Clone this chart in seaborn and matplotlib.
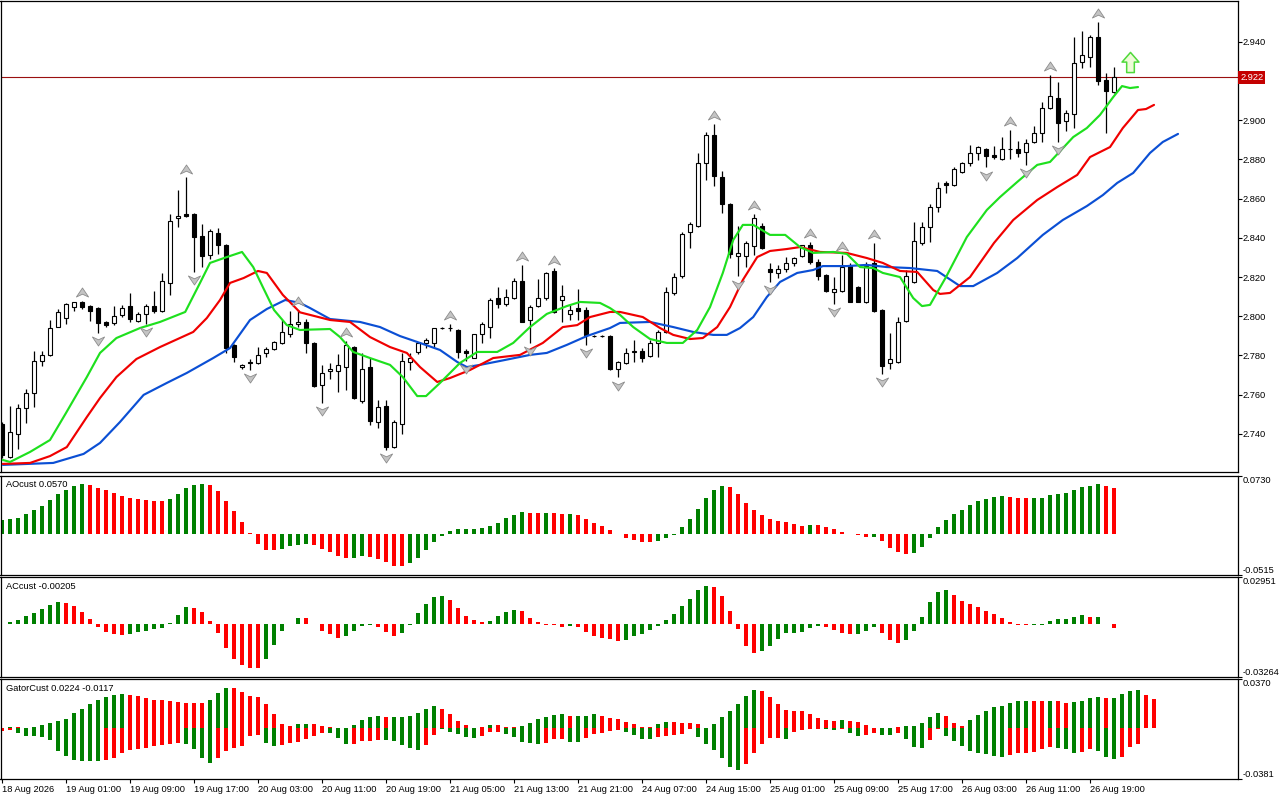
import numpy as np
import matplotlib
matplotlib.use("Agg")
import matplotlib.pyplot as plt
from matplotlib.path import Path
from matplotlib.transforms import offset_copy, blended_transform_factory
import seaborn as sns

# ---------------- data ----------------
opens = [2.7451, 2.7282, 2.7400, 2.7532, 2.7609, 2.7772, 2.7803, 2.7945, 2.7991, 2.8047,
         2.8073, 2.8052, 2.8042, 2.7971, 2.7966, 2.8007, 2.8052, 2.7976, 2.8012, 2.8052,
         2.8027, 2.8170, 2.8501, 2.8522, 2.8522, 2.8409, 2.8313, 2.8425, 2.8364, 2.7854,
         2.7741, 2.7762, 2.7762, 2.7813, 2.7833, 2.7864, 2.7910, 2.7961, 2.7971, 2.7864,
         2.7650, 2.7721, 2.7721, 2.7741, 2.7843, 2.7568, 2.7741, 2.7461, 2.7542, 2.7333,
         2.7451, 2.7767, 2.7818, 2.7864, 2.7864, 2.7940, 2.7940, 2.7930, 2.7823, 2.7787,
         2.7910, 2.7945, 2.8093, 2.8063, 2.8093, 2.8180, 2.7981, 2.8052, 2.8093, 2.8231,
         2.8083, 2.8012, 2.8042, 2.8032, 2.7899, 2.7899, 2.7899, 2.7731, 2.7762, 2.7818,
         2.7823, 2.7797, 2.7864, 2.7920, 2.8119, 2.8205, 2.8430, 2.8460, 2.8782, 2.8925,
         2.8710, 2.8573, 2.8307, 2.8307, 2.8358, 2.8460, 2.8241, 2.8221, 2.8241, 2.8272,
         2.8307, 2.8364, 2.8277, 2.8211, 2.8124, 2.8129, 2.8256, 2.8149, 2.8073, 2.8272,
         2.8032, 2.7762, 2.7767, 2.7976, 2.8175, 2.8374, 2.8455, 2.8557, 2.8680, 2.8670,
         2.8736, 2.8782, 2.8833, 2.8853, 2.8823, 2.8802, 2.8853, 2.8853, 2.8838, 2.8889,
         2.8935, 2.9062, 2.9113, 2.8996, 2.9032, 2.9297, 2.9322, 2.9424, 2.9205, 2.9144]
highs = [2.7461, 2.7542, 2.7553, 2.7629, 2.7823, 2.7823, 2.7981, 2.8037, 2.8068, 2.8073,
         2.8078, 2.8058, 2.8047, 2.7976, 2.8052, 2.8058, 2.8119, 2.8022, 2.8063, 2.8129,
         2.8221, 2.8522, 2.8644, 2.8710, 2.8527, 2.8471, 2.8445, 2.8450, 2.8369, 2.7859,
         2.7757, 2.7782, 2.7843, 2.7843, 2.7874, 2.7981, 2.8027, 2.8032, 2.7986, 2.7869,
         2.7752, 2.7762, 2.7808, 2.7874, 2.7849, 2.7813, 2.7787, 2.7573, 2.7573, 2.7471,
         2.7813, 2.7813, 2.7869, 2.7889, 2.7940, 2.7945, 2.7961, 2.7935, 2.7833, 2.7910,
         2.7971, 2.8093, 2.8149, 2.8139, 2.8195, 2.8262, 2.8058, 2.8190, 2.8226, 2.8246,
         2.8160, 2.8058, 2.8139, 2.8047, 2.7904, 2.7904, 2.7904, 2.7772, 2.7838, 2.7879,
         2.7838, 2.7879, 2.7930, 2.8149, 2.8221, 2.8430, 2.8481, 2.8833, 2.8940, 2.8981,
         2.8741, 2.8578, 2.8460, 2.8384, 2.8522, 2.8476, 2.8272, 2.8262, 2.8302, 2.8302,
         2.8364, 2.8379, 2.8292, 2.8216, 2.8200, 2.8313, 2.8272, 2.8155, 2.8277, 2.8374,
         2.8037, 2.7915, 2.7996, 2.8236, 2.8481, 2.8481, 2.8573, 2.8685, 2.8690, 2.8761,
         2.8787, 2.8874, 2.8868, 2.8858, 2.8868, 2.8914, 2.8950, 2.8894, 2.8904, 2.8970,
         2.9093, 2.9231, 2.9195, 2.9052, 2.9424, 2.9455, 2.9435, 2.9501, 2.9241, 2.9271]
lows = [2.7277, 2.7277, 2.7323, 2.7456, 2.7537, 2.7747, 2.7797, 2.7945, 2.7961, 2.8027,
        2.8037, 2.7976, 2.7915, 2.7945, 2.7955, 2.7996, 2.7971, 2.7971, 2.7961, 2.8017,
        2.8022, 2.8109, 2.8455, 2.8506, 2.8226, 2.8251, 2.8292, 2.8318, 2.7813, 2.7767,
        2.7731, 2.7726, 2.7757, 2.7792, 2.7828, 2.7859, 2.7894, 2.7945, 2.7813, 2.7639,
        2.7558, 2.7680, 2.7614, 2.7624, 2.7578, 2.7558, 2.7446, 2.7430, 2.7318, 2.7328,
        2.7400, 2.7726, 2.7808, 2.7838, 2.7843, 2.7935, 2.7925, 2.7787, 2.7772, 2.7787,
        2.7864, 2.7889, 2.8042, 2.8052, 2.8088, 2.7971, 2.7864, 2.8047, 2.8083, 2.8017,
        2.7971, 2.7981, 2.7981, 2.7854, 2.7894, 2.7894, 2.7726, 2.7690, 2.7757, 2.7767,
        2.7767, 2.7792, 2.7792, 2.7915, 2.8109, 2.8195, 2.8348, 2.8455, 2.8695, 2.8664,
        2.8527, 2.8297, 2.8205, 2.8251, 2.8313, 2.8343, 2.8175, 2.8195, 2.8226, 2.8257,
        2.8302, 2.8267, 2.8185, 2.8124, 2.8063, 2.8124, 2.8073, 2.8073, 2.8068, 2.8022,
        2.7706, 2.7731, 2.7762, 2.7971, 2.8170, 2.8364, 2.8379, 2.8532, 2.8629, 2.8664,
        2.8731, 2.8766, 2.8797, 2.8761, 2.8802, 2.8797, 2.8802, 2.8812, 2.8772, 2.8884,
        2.8889, 2.9057, 2.8889, 2.8945, 2.8960, 2.9266, 2.9271, 2.9180, 2.8935, 2.9139]
closes = [2.7293, 2.7410, 2.7532, 2.7609, 2.7772, 2.7803, 2.7940, 2.8022, 2.8063, 2.8073,
          2.8047, 2.8027, 2.7966, 2.7955, 2.8001, 2.8042, 2.7986, 2.8012, 2.8052, 2.8027,
          2.8180, 2.8486, 2.8511, 2.8511, 2.8404, 2.8307, 2.8435, 2.8364, 2.7838, 2.7792,
          2.7752, 2.7767, 2.7803, 2.7833, 2.7869, 2.7920, 2.7961, 2.7971, 2.7864, 2.7644,
          2.7711, 2.7731, 2.7752, 2.7854, 2.7583, 2.7731, 2.7466, 2.7537, 2.7333, 2.7461,
          2.7772, 2.7787, 2.7864, 2.7879, 2.7940, 2.7940, 2.7940, 2.7818, 2.7813, 2.7910,
          2.7961, 2.8083, 2.8063, 2.8098, 2.8180, 2.7971, 2.8047, 2.8093, 2.8221, 2.8022,
          2.8103, 2.8032, 2.8027, 2.7904, 2.7899, 2.7899, 2.7731, 2.7767, 2.7813, 2.7823,
          2.7787, 2.7864, 2.7920, 2.8124, 2.8200, 2.8420, 2.8471, 2.8782, 2.8925, 2.8715,
          2.8573, 2.8318, 2.8323, 2.8374, 2.8501, 2.8348, 2.8226, 2.8241, 2.8272, 2.8297,
          2.8364, 2.8277, 2.8205, 2.8129, 2.8139, 2.8251, 2.8073, 2.8073, 2.8256, 2.8027,
          2.7746, 2.7782, 2.7971, 2.8205, 2.8384, 2.8455, 2.8557, 2.8654, 2.8670, 2.8751,
          2.8782, 2.8833, 2.8863, 2.8817, 2.8812, 2.8853, 2.8853, 2.8833, 2.8884, 2.8935,
          2.9062, 2.9123, 2.8986, 2.9037, 2.9292, 2.9333, 2.9424, 2.9200, 2.9149, 2.9220]

x_labels = ["18 Aug 2026", "19 Aug 01:00", "19 Aug 09:00", "19 Aug 17:00", "20 Aug 03:00",
            "20 Aug 11:00", "20 Aug 19:00", "21 Aug 05:00", "21 Aug 13:00", "21 Aug 21:00",
            "24 Aug 07:00", "24 Aug 15:00", "25 Aug 01:00", "25 Aug 09:00", "25 Aug 17:00",
            "26 Aug 03:00", "26 Aug 11:00", "26 Aug 19:00"]
x_label_bars = [0, 8, 16, 24, 32, 40, 48, 56, 64, 72, 80, 88, 96, 104, 112, 120, 128, 136]

# Alligator lines (bar position, price)
lips_x = [0.1, 1, 3.5, 6, 8, 10.6, 12.25, 14.3, 17.25, 19.75, 22.9, 24.75, 26, 28.1, 30, 31.4, 32.6, 34,
          35.6, 37.25, 38.5, 41, 42.25, 43.9, 46, 48.5, 50.1, 51.9, 53, 54.75, 57.25, 59.4, 61.9, 63.9,
          66, 68.1, 70.6, 72.25, 74.75, 76, 77.25, 78.9, 81, 83.1, 85.1, 86.9, 88.5, 90.1, 91.4, 92.6,
          93.9, 96, 97.9, 99.75, 101.4, 103.9, 105.6, 107.25, 108.9, 110.1, 112.25, 113.9, 115, 116,
          118, 120.6, 123.1, 124.75, 126.9, 129.4, 131, 133.9, 135.6, 137.25, 138.9, 140, 141, 142]
lips_y = [2.7267, 2.7257, 2.7308, 2.7369, 2.7507, 2.7690, 2.7813, 2.7889, 2.7940, 2.7971, 2.8022, 2.8170,
          2.8272, 2.8302, 2.8328, 2.8251, 2.8149, 2.8032, 2.7955, 2.7930, 2.7932, 2.7935, 2.7894, 2.7818,
          2.7787, 2.7752, 2.7690, 2.7593, 2.7593, 2.7660, 2.7762, 2.7818, 2.7818, 2.7864, 2.7945, 2.8012,
          2.8052, 2.8073, 2.8068, 2.8042, 2.8007, 2.7945, 2.7884, 2.7864, 2.7864, 2.7930, 2.8047, 2.8221,
          2.8389, 2.8466, 2.8466, 2.8415, 2.8415, 2.8353, 2.8323, 2.8328, 2.8318, 2.8251, 2.8246, 2.8221,
          2.8200, 2.8093, 2.8052, 2.8058, 2.8200, 2.8404, 2.8542, 2.8608, 2.8685, 2.8772, 2.8787, 2.8914,
          2.8960, 2.9027, 2.9118, 2.9174, 2.9164, 2.9169]
teeth_x = [0.1, 3.5, 6, 8.1, 10.6, 12.25, 14.3, 16.8, 19.75, 23.9, 25.6, 27.25, 28.5, 30.2, 32, 33.1,
           35.1, 37.25, 38.5, 41, 43.5, 46, 48.5, 50.6, 52.25, 54.4, 56, 58.5, 61.4, 64.75, 67.6, 70.1,
           71.9, 73.5, 76, 77.25, 80.1, 82.25, 83.9, 86, 87.6, 89.4, 91, 92.6, 94.4, 96, 98.1, 99.75,
           102.25, 105.6, 108.1, 110.1, 112.25, 114.4, 116.4, 117.25, 118.5, 121, 124, 126.4, 129.4,
           131.9, 134.4, 136, 138.5, 140.1, 142, 143, 144]
teeth_y = [2.7247, 2.7252, 2.7287, 2.7333, 2.7486, 2.7583, 2.7690, 2.7782, 2.7843, 2.7920, 2.7991, 2.8083,
           2.8170, 2.8195, 2.8231, 2.8221, 2.8109, 2.8020, 2.8007, 2.7981, 2.7971, 2.7894, 2.7843, 2.7813,
           2.7741, 2.7665, 2.7685, 2.7726, 2.7787, 2.7803, 2.7864, 2.7945, 2.7955, 2.7996, 2.8022, 2.8022,
           2.7996, 2.7940, 2.7905, 2.7884, 2.7889, 2.7945, 2.8047, 2.8185, 2.8302, 2.8333, 2.8343, 2.8353,
           2.8328, 2.8323, 2.8297, 2.8272, 2.8231, 2.8226, 2.8134, 2.8114, 2.8119, 2.8200, 2.8374, 2.8491,
           2.8593, 2.8659, 2.8721, 2.8812, 2.8863, 2.8960, 2.9052, 2.9057, 2.9078]
jaw_x = [0.1, 6.4, 10.2, 12.25, 14.75, 17.7, 20.6, 23.1, 26.4, 28.5, 31, 33.1, 35.4, 37.25, 38.5, 41,
         44.75, 47.25, 49.75, 52.25, 54.75, 56.9, 58.1, 59.75, 62.25, 66, 68.1, 70.6, 73.1, 76, 77.25,
         81, 83.9, 86.4, 88.9, 90.6, 92.25, 93.9, 95.6, 97.25, 99.4, 101.4, 102.6, 105.6, 108.1, 110.6,
         113.5, 116.9, 119.75, 121.4, 124.4, 126.9, 130.1, 132.6, 135.6, 137.6, 139.4, 141.4, 143.5,
         145.1, 147]
jaw_y = [2.7242, 2.7252, 2.7298, 2.7354, 2.7461, 2.7599, 2.7660, 2.7711, 2.7787, 2.7838, 2.7981, 2.8037,
         2.8083, 2.8068, 2.8042, 2.7986, 2.7971, 2.7945, 2.7899, 2.7864, 2.7828, 2.7767, 2.7741, 2.7752,
         2.7772, 2.7803, 2.7813, 2.7854, 2.7899, 2.7940, 2.7966, 2.7971, 2.7945, 2.7920, 2.7905, 2.7905,
         2.7940, 2.7996, 2.8098, 2.8175, 2.8221, 2.8236, 2.8256, 2.8256, 2.8262, 2.8251, 2.8246, 2.8231,
         2.8154, 2.8154, 2.8221, 2.8297, 2.8415, 2.8491, 2.8562, 2.8618, 2.8680, 2.8731, 2.8833, 2.8889,
         2.8930]

fractal_up_bars = [10, 23, 37, 43, 56, 65, 69, 89, 94, 101, 105, 109, 126, 131, 137]
fractal_down_bars = [12, 18, 24, 31, 40, 48, 58, 66, 73, 77, 92, 96, 104, 110, 123, 128, 132]
signal_bar = 141
signal_price = 2.9299
current_price = 2.922
price_ticks = [2.740, 2.760, 2.780, 2.800, 2.820, 2.840, 2.860, 2.880, 2.900, 2.920, 2.940]

ao_values = [0.0172, 0.0184, 0.0197, 0.0247, 0.0297, 0.0348, 0.0423, 0.0499, 0.0549, 0.0595,
             0.0624, 0.0612, 0.0574, 0.0549, 0.0511, 0.0473, 0.0448, 0.0432, 0.0423, 0.0415,
             0.0413, 0.0440, 0.0499, 0.0574, 0.0612, 0.0624, 0.0612, 0.0541, 0.0415, 0.0289,
             0.0147, 0.0013, -0.0130, -0.0205, -0.0207, -0.0193, -0.0160, -0.0140, -0.0130, -0.0142,
             -0.0193, -0.0230, -0.0277, -0.0306, -0.0304, -0.0277, -0.0293, -0.0318, -0.0356, -0.0406,
             -0.0408, -0.0369, -0.0306, -0.0205, -0.0105, -0.0029, 0.0034, 0.0059, 0.0060, 0.0061,
             0.0071, 0.0096, 0.0134, 0.0197, 0.0235, 0.0272, 0.0262, 0.0260, 0.0262, 0.0258,
             0.0248, 0.0249, 0.0235, 0.0184, 0.0134, 0.0096, 0.0046, -0.0004, -0.0050, -0.0075,
             -0.0099, -0.0101, -0.0088, -0.0050, -0.0013, 0.0084, 0.0184, 0.0310, 0.0448, 0.0549,
             0.0599, 0.0587, 0.0499, 0.0386, 0.0297, 0.0235, 0.0184, 0.0159, 0.0147, 0.0122,
             0.0096, 0.0109, 0.0107, 0.0084, 0.0059, 0.0021, -0.0004, -0.0013, -0.0042, -0.0038,
             -0.0088, -0.0180, -0.0230, -0.0256, -0.0243, -0.0163, -0.0054, 0.0088, 0.0172, 0.0247,
             0.0297, 0.0360, 0.0411, 0.0436, 0.0461, 0.0473, 0.0461, 0.0450, 0.0448, 0.0449,
             0.0450, 0.0486, 0.0499, 0.0511, 0.0549, 0.0582, 0.0599, 0.0624, 0.0599, 0.0570]
ao_color_runs = [("g", 11), ("r", 10), ("g", 5), ("r", 9), ("g", 4), ("r", 5), ("g", 2), ("r", 5),
                 ("g", 15), ("r", 2), ("g", 1), ("r", 2), ("g", 1), ("r", 10), ("g", 9), ("r", 10),
                 ("g", 1), ("r", 7), ("g", 1), ("r", 4), ("g", 12), ("r", 3), ("g", 9), ("r", 2)]

ac_values = [0.0004, 0.0016, 0.0028, 0.0055, 0.0072, 0.0097, 0.0122, 0.0143, 0.0136, 0.0118,
             0.0080, 0.0034, -0.0016, -0.0045, -0.0059, -0.0066, -0.0059, -0.0045, -0.0039, -0.0028,
             -0.0022, 0.0007, 0.0061, 0.0109, 0.0105, 0.0080, 0.0024, -0.0051, -0.0145, -0.0214,
             -0.0253, -0.0270, -0.0272, -0.0214, -0.0126, -0.0039, 0.0005, 0.0040, 0.0040, 0.0005,
             -0.0039, -0.0059, -0.0084, -0.0072, -0.0039, -0.0009, -0.0002, -0.0016, -0.0045, -0.0072,
             -0.0053, -0.0001, 0.0074, 0.0128, 0.0172, 0.0178, 0.0153, 0.0103, 0.0053, 0.0028,
             0.0016, 0.0022, 0.0053, 0.0078, 0.0091, 0.0084, 0.0041, 0.0016, -0.0001, -0.0003,
             -0.0014, -0.0009, -0.0016, -0.0045, -0.0072, -0.0084, -0.0091, -0.0103, -0.0097, -0.0072,
             -0.0059, -0.0034, -0.0009, 0.0028, 0.0066, 0.0116, 0.0159, 0.0216, 0.0241, 0.0234,
             0.0178, 0.0084, -0.0028, -0.0134, -0.0178, -0.0166, -0.0134, -0.0091, -0.0053, -0.0052,
             -0.0047, -0.0022, -0.0009, -0.0016, -0.0034, -0.0053, -0.0059, -0.0058, -0.0041, -0.0016,
             -0.0053, -0.0097, -0.0116, -0.0097, -0.0041, 0.0047, 0.0141, 0.0203, 0.0216, 0.0184,
             0.0147, 0.0128, 0.0109, 0.0084, 0.0066, 0.0041, 0.0016, -0.0003, -0.0004, -0.0003,
             -0.0002, 0.0022, 0.0034, 0.0035, 0.0047, 0.0059, 0.0047, 0.0048, 0.0005, -0.00205]
ac_color_runs = [("r", 1), ("g", 7), ("r", 8), ("g", 8), ("r", 9), ("g", 5), ("r", 5), ("g", 4),
                 ("r", 3), ("g", 6), ("r", 5), ("g", 4), ("r", 6), ("g", 1), ("r", 6), ("g", 11),
                 ("r", 6), ("g", 8), ("r", 4), ("g", 3), ("r", 3), ("g", 6), ("r", 10), ("g", 7),
                 ("r", 1), ("g", 1), ("r", 2)]

gator_up = [0.0003, 0.0010, 0.0008, 0.0006, 0.0010, 0.0028, 0.0043, 0.0058, 0.0070, 0.0113,
            0.0146, 0.0183, 0.0213, 0.0238, 0.0254, 0.0259, 0.0251, 0.0246, 0.0228, 0.0213,
            0.0211, 0.0203, 0.0201, 0.0193, 0.0191, 0.0190, 0.0213, 0.0266, 0.0304, 0.0302,
            0.0271, 0.0246, 0.0238, 0.0183, 0.0108, 0.0033, 0.0016, 0.0033, 0.0034, 0.0033,
            0.0015, 0.0008, 0.0003, 0.0001, 0.0025, 0.0063, 0.0085, 0.0093, 0.0085, 0.0086,
            0.0087, 0.0093, 0.0115, 0.0146, 0.0168, 0.0146, 0.0108, 0.0055, 0.0025, 0.0002,
            0.0010, 0.0025, 0.0025, 0.0010, 0.0008, 0.0018, 0.0040, 0.0070, 0.0085, 0.0100,
            0.0108, 0.0093, 0.0094, 0.0095, 0.0108, 0.0093, 0.0078, 0.0070, 0.0048, 0.0033,
            0.0010, 0.0009, 0.0033, 0.0048, 0.0047, 0.0040, 0.0039, 0.0033, 0.0002, 0.0033,
            0.0085, 0.0131, 0.0183, 0.0243, 0.0289, 0.0281, 0.0236, 0.0183, 0.0138, 0.0131,
            0.0130, 0.0108, 0.0078, 0.0063, 0.0055, 0.0063, 0.0055, 0.0048, 0.0025, 0.0002,
            0.0001, 0.0000, 0.0013, 0.0018, 0.0019, 0.0040, 0.0085, 0.0115, 0.0093, 0.0040,
            0.0018, 0.0063, 0.0100, 0.0131, 0.0161, 0.0168, 0.0191, 0.0206, 0.0207, 0.0206,
            0.0205, 0.0206, 0.0205, 0.0191, 0.0198, 0.0206, 0.0228, 0.0236, 0.0228, 0.0229,
            0.0259, 0.0281, 0.0289, 0.0251, 0.0224]
gator_up_color_runs = [("g", 2), ("r", 2), ("g", 12), ("r", 10), ("g", 3), ("r", 8), ("g", 2), ("r", 5),
                       ("g", 4), ("r", 1), ("g", 6), ("r", 6), ("g", 1), ("r", 3), ("g", 6), ("r", 1),
                       ("g", 3), ("r", 7), ("g", 2), ("r", 5), ("g", 6), ("r", 10), ("g", 1), ("r", 7),
                       ("g", 5), ("r", 3), ("g", 8), ("r", 2), ("g", 1), ("r", 2), ("g", 4), ("r", 1),
                       ("g", 4), ("r", 2)]
gator_down = [-0.0023, -0.0013, -0.0035, -0.0055, -0.0056, -0.0063, -0.0085, -0.0168, -0.0206, -0.0236,
              -0.0243, -0.0244, -0.0245, -0.0236, -0.0223, -0.0188, -0.0161, -0.0156, -0.0148, -0.0131,
              -0.0123, -0.0118, -0.0113, -0.0115, -0.0156, -0.0223, -0.0264, -0.0223, -0.0168, -0.0148,
              -0.0131, -0.0060, -0.0048, -0.0113, -0.0131, -0.0125, -0.0110, -0.0100, -0.0080, -0.0055,
              -0.0035, -0.0036, -0.0073, -0.0118, -0.0117, -0.0098, -0.0093, -0.0088, -0.0089, -0.0098,
              -0.0126, -0.0148, -0.0163, -0.0126, -0.0050, -0.0008, -0.0028, -0.0043, -0.0065, -0.0073,
              -0.0058, -0.0028, -0.0027, -0.0043, -0.0065, -0.0103, -0.0110, -0.0118, -0.0110, -0.0080,
              -0.0079, -0.0103, -0.0104, -0.0073, -0.0043, -0.0035, -0.0020, -0.0013, -0.0028, -0.0050,
              -0.0080, -0.0081, -0.0065, -0.0058, -0.0050, -0.0043, -0.0005, -0.0065, -0.0118, -0.0163,
              -0.0223, -0.0289, -0.0311, -0.0266, -0.0183, -0.0115, -0.0070, -0.0069, -0.0078, -0.0025,
              -0.0010, -0.0005, -0.0004, -0.0005, -0.0013, -0.0002, -0.0035, -0.0058, -0.0050, -0.0035,
              -0.0048, -0.0049, -0.0035, -0.0080, -0.0138, -0.0148, -0.0085, -0.0005, -0.0058, -0.0093,
              -0.0131, -0.0168, -0.0183, -0.0191, -0.0206, -0.0213, -0.0198, -0.0183, -0.0182, -0.0176,
              -0.0156, -0.0138, -0.0146, -0.0156, -0.0183, -0.0176, -0.0156, -0.0168, -0.0213, -0.0228,
              -0.0213, -0.0143, -0.0117]
gator_down_color_runs = [("r", 2), ("g", 11), ("r", 10), ("g", 4), ("r", 6), ("g", 2), ("r", 6), ("g", 3),
                         ("r", 4), ("g", 5), ("r", 2), ("g", 5), ("r", 3), ("g", 5), ("r", 3), ("g", 2),
                         ("r", 5), ("g", 4), ("r", 5), ("g", 6), ("r", 5), ("g", 1), ("r", 4), ("g", 2),
                         ("r", 1), ("g", 2), ("r", 2), ("g", 2), ("r", 1), ("g", 3), ("r", 2), ("g", 8),
                         ("r", 6), ("g", 3), ("r", 2), ("g", 3), ("r", 3)]

ao_limits = (-0.0515, 0.0730)
ac_limits = (-0.03264, 0.02951)
gator_limits = (-0.0381, 0.0370)
ao_title = "AOcust 0.0570"
ac_title = "ACcust -0.00205"
gator_title = "GatorCust 0.0224 -0.0117"

# ---------------- style ----------------
sns.set_theme(style="white")
plt.rcParams['font.family'] = ['Liberation Sans', 'DejaVu Sans']
FS = 6.7
GREEN_H = "#008000"
RED_H = "#ff0000"
CMAP = {"g": GREEN_H, "r": RED_H}


def expand(runs):
    out = []
    for c, k in runs:
        out += [CMAP[c]] * k
    return out


W, H = 1280, 800
fig = plt.figure(figsize=(12.8, 8.0), dpi=100)
fig.patch.set_facecolor("white")


def frac_axes(top_px, bottom_px):
    left = 0.5 / W
    width = (1237.7 - 0.5) / W
    return fig.add_axes([left, 1 - bottom_px / H, width, (bottom_px - top_px) / H])


ax = frac_axes(1.0, 472.5)
ax_ao = frac_axes(475.7, 574.7)
ax_ac = frac_axes(577.3, 676.7)
ax_g = frac_axes(679.3, 779.0)

XMIN, XMAX = -0.19, 154.46
for a in (ax, ax_ao, ax_ac, ax_g):
    a.set_facecolor("white")
    a.set_xlim(XMIN, XMAX)
    for s in a.spines.values():
        s.set_color("black")
        s.set_linewidth(0.9)
        s.set_visible(True)
    a.yaxis.tick_right()
    a.tick_params(axis="y", direction="out", length=2.6, width=0.8, colors="black",
                  labelsize=FS, pad=0.6, left=False, right=True)
    a.tick_params(axis="x", bottom=False, labelbottom=False)
    a.grid(False)

# ---------------- main candles ----------------
n = len(opens)
idx = np.arange(n)
o = np.array(opens); h = np.array(highs); l = np.array(lows); c = np.array(closes)
ax.vlines(idx, l, h, color="black", linewidth=0.9, zorder=2)
body_bottom = np.minimum(o, c)
body_h = np.maximum(np.abs(c - o), 0.00022)
body_col = ["white" if cc >= oo else "black" for oo, cc in zip(o, c)]
ax.bar(idx, body_h, bottom=body_bottom, width=0.56, color=body_col, edgecolor="black",
       linewidth=0.8, zorder=3)

# Alligator
for xs, ys, col in ((jaw_x, jaw_y, "#0b4fd4"), (teeth_x, teeth_y, "#f00000"), (lips_x, lips_y, "#1ee01e")):
    sns.lineplot(x=xs, y=ys, ax=ax, color=col, linewidth=1.55, estimator=None, sort=False, zorder=4)
for line in ax.get_lines():
    line.set_solid_joinstyle("round")

# fractal arrows
up_path = Path([(0, 0.37), (0.5, -0.37), (0, -0.14), (-0.5, -0.37), (0, 0.37)],
               [Path.MOVETO, Path.LINETO, Path.LINETO, Path.LINETO, Path.CLOSEPOLY])
down_path = Path([(0, -0.37), (0.5, 0.37), (0, 0.14), (-0.5, 0.37), (0, -0.37)],
                 [Path.MOVETO, Path.LINETO, Path.LINETO, Path.LINETO, Path.CLOSEPOLY])
tr_up = offset_copy(ax.transData, fig=fig, y=8.5, units="dots")
tr_dn = offset_copy(ax.transData, fig=fig, y=-8.5, units="dots")
ax.plot(fractal_up_bars, [highs[i] for i in fractal_up_bars], linestyle="none", marker=up_path,
        markersize=8.8, markerfacecolor="#c4c4c4", markeredgecolor="#8c8c8c", markeredgewidth=0.6,
        transform=tr_up, zorder=5)
ax.plot(fractal_down_bars, [lows[i] for i in fractal_down_bars], linestyle="none", marker=down_path,
        markersize=8.8, markerfacecolor="#c4c4c4", markeredgecolor="#8c8c8c", markeredgewidth=0.6,
        transform=tr_dn, zorder=5)

# signal arrow
sig_path = Path([(0, 0.5), (0.42, 0.02), (0.19, 0.02), (0.19, -0.5), (-0.19, -0.5), (-0.19, 0.02),
                 (-0.42, 0.02), (0, 0.5)],
                [Path.MOVETO] + [Path.LINETO] * 6 + [Path.CLOSEPOLY])
ax.plot([signal_bar], [signal_price], linestyle="none", marker=sig_path, markersize=14.5,
        markerfacecolor="#eefbd8", markeredgecolor="#4fd93a", markeredgewidth=1.1, zorder=6)

# current price line + label
ax.axhline(current_price, color="#9a1010", linewidth=0.8, zorder=1)
btr = blended_transform_factory(ax.transAxes, ax.transData)
ax.text(1.0 + 2.5 / 1237.2, current_price, f"{current_price:.3f}", transform=btr, fontsize=FS,
        color="white", va="center", ha="left", zorder=10, clip_on=False,
        bbox=dict(boxstyle="square,pad=0.22", facecolor="#c40000", edgecolor="none"))

ax.set_ylim(2.72032, 2.96079)
ax.set_yticks(price_ticks)
ax.set_yticklabels([f"{p:.3f}" for p in price_ticks])
ax.set_xlabel(""); ax.set_ylabel("")

# ---------------- indicator panels ----------------
ax_ao.bar(np.arange(len(ao_values)), ao_values, width=0.5, color=expand(ao_color_runs), linewidth=0)
ax_ac.bar(np.arange(len(ac_values)), ac_values, width=0.5, color=expand(ac_color_runs), linewidth=0)
ax_g.bar(np.arange(len(gator_up)), gator_up, width=0.5, color=expand(gator_up_color_runs), linewidth=0)
ax_g.bar(np.arange(len(gator_down)), gator_down, width=0.5, color=expand(gator_down_color_runs), linewidth=0)

for a, lim, labs, title in ((ax_ao, ao_limits, ("-0.0515", "0.0730"), ao_title),
                            (ax_ac, ac_limits, ("-0.03264", "0.02951"), ac_title),
                            (ax_g, gator_limits, ("-0.0381", "0.0370"), gator_title)):
    a.set_ylim(*lim)
    a.set_yticks(list(lim))
    a.set_yticklabels(list(labs))
    tl = a.get_yticklabels()
    tl[0].set_va("bottom")
    tl[1].set_va("top")
    a.text(6 / 1237.2, 0.911, title, transform=a.transAxes, fontsize=FS, color="black",
           ha="left", va="center")
    a.set_xlabel(""); a.set_ylabel("")

ax_g.set_xticks(x_label_bars)
ax_g.set_xticklabels(x_labels)
ax_g.tick_params(axis="x", bottom=True, labelbottom=True, direction="out", length=3, width=0.8,
                 colors="black", labelsize=FS, pad=1.5)
for t in ax_g.get_xticklabels():
    t.set_ha("left")

fig.savefig("out.png", dpi=100, facecolor="white")
